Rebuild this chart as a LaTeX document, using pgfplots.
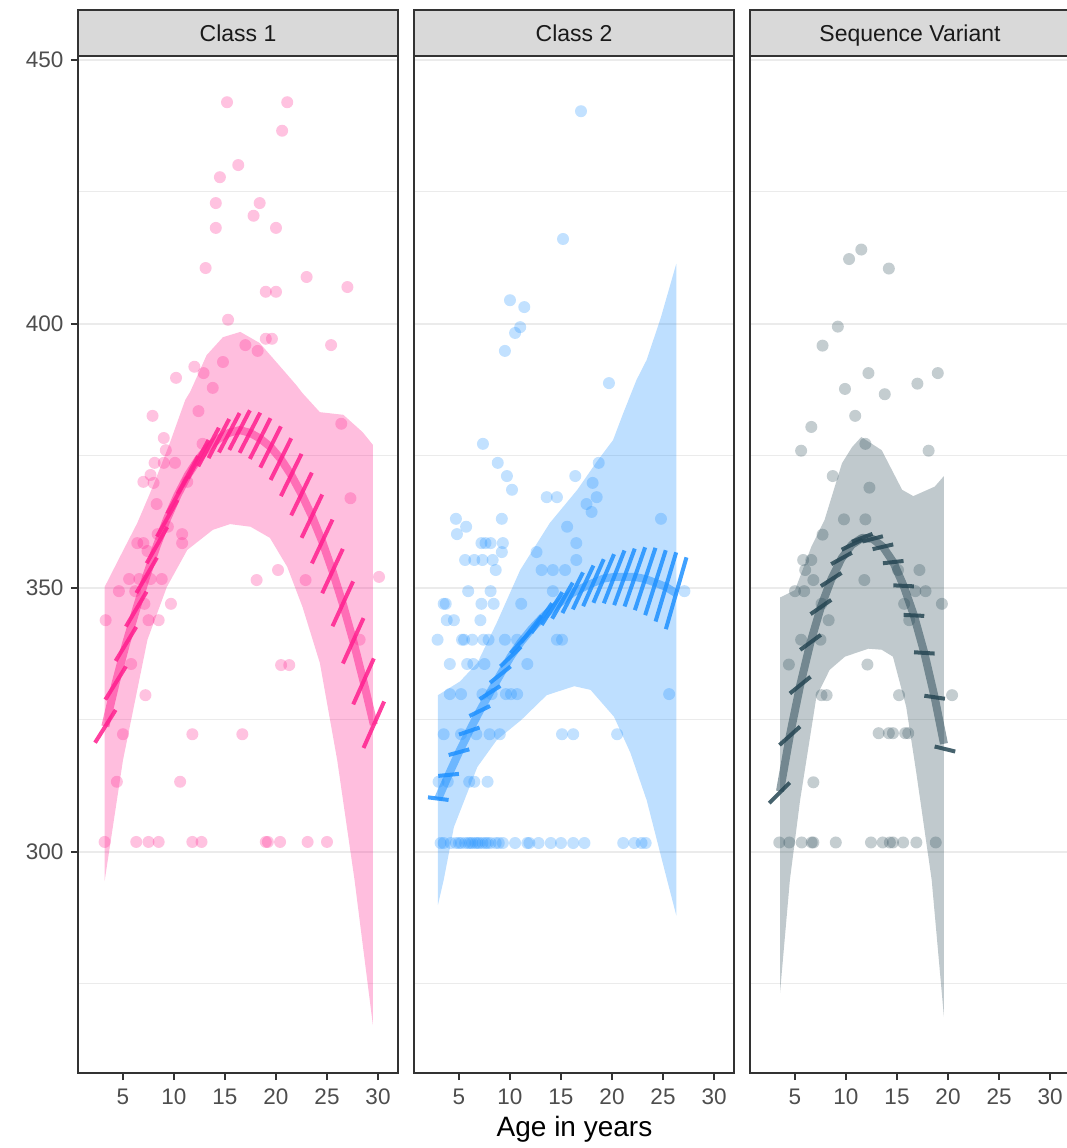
\documentclass[border=0pt]{standalone}
\usepackage{fontspec}
\setmainfont{Liberation Sans}
\usepackage{pgfplots}
\pgfplotsset{compat=1.18}
\definecolor{pinkC}{HTML}{FF1F8E}
\definecolor{blueC}{HTML}{1E90FF}
\definecolor{grayC}{HTML}{264653}
\definecolor{grid92}{HTML}{EBEBEB}
\definecolor{grey20}{HTML}{333333}
\definecolor{grey30}{HTML}{4D4D4D}
\definecolor{grey10}{HTML}{1A1A1A}
\definecolor{stripfill}{HTML}{D9D9D9}

\pgfplotsset{
  facet/.style={
    scale only axis, width=320pt, height=1017pt,
    xmin=0.59, xmax=31.96, ymin=258.14, ymax=450.76,
    xtick={5,10,...,30}, ytick={300,350,400,450}, minor ytick={275,325,375,425},
    ymajorgrids, yminorgrids,
    major grid style={grid92, line width=2pt},
    minor grid style={grid92, line width=1pt},
    axis line style={grey20, line width=1.5pt},
    tick align=outside, major tick length=7pt, minor tick length=0pt,
    every tick/.append style={grey20, line width=1.5pt},
    xtick pos=left, ytick pos=left,
    tick label style={font=\fontsize{22.5pt}{27pt}\selectfont, text=grey30},
    xticklabel style={yshift=-5pt},
    yticklabel style={xshift=-4pt},
    /pgf/number format/assume math mode=true,
    every axis title/.style={at={(0.5,1)}, anchor=south, fill=stripfill, draw=grey20, line width=1.5pt,
      minimum width=320pt, minimum height=46pt, inner sep=0pt, outer sep=0pt,
      text height=16.5pt, text depth=0pt,
      font=\fontsize{23pt}{27pt}\selectfont, text=grey10},
  },
  pts/.style={only marks, mark=*, color=#1, mark size=6pt, mark options={draw=#1, draw opacity=0, fill=#1, fill opacity=0.27}},
  rib/.style={draw=none, fill=#1, fill opacity=0.29},
  fit/.style={#1, draw opacity=0.5, line width=8pt, no markers, line join=round},
  seg/.style={#1, draw opacity=0.85, line width=4pt, no markers, quiver={u=\thisrow{u}, v=\thisrow{v}}},
}

\begin{document}
\begin{tikzpicture}
% ---------------- Class 1 ----------------
\begin{axis}[facet, at={(78pt,75pt)}, anchor=south west, title={Class 1}]
\addplot[rib=pinkC] coordinates {
(3.2,350.2)(4.7,355.9)(6.4,362.3)(7.9,369.1)(9.6,377.5)(11.1,385.6)(11.6,387.2)(13.2,394.1)(14.8,397.5)(16.5,398.5)(18.4,396.4)(20.7,391.3)(22.0,388.4)(22.6,386.9)(24.3,383.3)(26.6,382.8)(28.5,379.5)(29.5,377.1)
(29.5,267.2)(27.7,294.7)(26.0,317.4)(24.3,335.8)(22.6,346.4)(21.1,354.0)(19.4,359.5)(17.5,361.6)(15.5,362.1)(13.8,361.0)(11.3,357.2)(9.3,350.2)(7.4,340.2)(5.8,325.0)(5.0,317.4)(3.2,294.5)
};
\addplot[pts=pinkC] table {
x y
15.2 442.0
21.1 442.0
20.6 436.6
16.3 430.1
14.5 427.8
14.1 422.9
18.4 422.9
17.8 420.5
14.1 418.2
20.0 418.2
13.1 410.6
23.0 408.9
27.0 407.0
19.0 406.1
20.0 406.1
15.3 400.8
19.0 397.2
19.6 397.2
17.0 396.0
25.4 396.0
18.2 394.9
14.8 392.8
12.0 391.9
12.9 390.7
10.2 389.8
13.8 387.9
12.4 383.5
7.9 382.6
26.4 381.1
9.0 378.4
12.8 377.3
9.2 376.1
8.1 373.7
9.0 373.7
10.1 373.7
7.7 371.4
7.0 370.1
8.0 369.9
11.3 370.1
27.3 367.0
8.3 365.9
9.4 361.6
8.4 360.2
10.8 360.2
10.8 358.5
6.4 358.5
7.0 358.5
7.4 357.0
20.2 353.4
5.6 351.7
6.6 351.7
7.7 351.7
8.8 351.7
18.1 351.5
22.9 351.5
30.1 352.1
4.6 349.4
6.2 349.4
7.1 347.0
9.7 347.0
3.3 343.9
7.5 343.9
8.5 343.9
28.2 340.2
5.8 335.6
20.5 335.4
21.3 335.4
7.2 329.7
5.0 322.3
11.8 322.3
16.7 322.3
4.4 313.3
10.6 313.3
3.2 301.9
6.3 301.9
7.5 301.9
8.5 301.9
11.8 301.9
12.7 301.9
19.0 301.9
19.2 301.9
20.4 301.9
23.1 301.9
25.0 301.9
};
\addplot[fit=pinkC] coordinates {
(3.27,323.8)(4.28,332.0)(5.29,339.4)(6.30,346.0)(7.32,352.4)(8.33,358.1)(9.34,363.2)(10.35,367.6)(11.37,371.4)(12.38,374.4)(13.39,376.7)(14.40,378.3)(15.42,379.4)(16.43,379.9)(17.44,379.4)(18.45,378.3)(19.47,376.7)(20.48,374.4)(21.49,371.4)(22.50,367.8)(23.52,363.6)(24.53,358.8)(25.54,353.2)(26.55,347.0)(27.57,340.0)(28.58,332.3)(29.59,324.1)
};
\addplot[seg=pinkC] table {
x y u v
2.26 320.70 2.02 6.20
3.27 328.85 2.02 6.30
4.28 336.18 2.02 6.45
5.29 342.70 2.02 6.60
6.31 349.05 2.02 6.70
7.32 354.68 2.02 6.85
8.33 359.73 2.02 6.95
9.34 364.08 2.02 7.05
10.36 367.83 2.02 7.15
11.37 370.78 2.02 7.25
12.38 373.05 2.02 7.30
13.39 374.60 2.02 7.40
14.41 375.68 2.02 7.45
15.42 376.15 2.02 7.50
16.43 375.60 2.02 7.60
17.44 374.45 2.02 7.70
18.46 372.80 2.02 7.80
19.47 370.45 2.02 7.90
20.48 367.40 2.02 8.00
21.49 363.75 2.02 8.10
22.51 359.50 2.02 8.20
23.52 354.65 2.02 8.30
24.53 349.00 2.02 8.40
25.54 342.75 2.02 8.50
26.56 335.70 2.02 8.60
27.57 327.95 2.02 8.70
28.58 319.70 2.02 8.80
};
\end{axis}
% ---------------- Class 2 ----------------
\begin{axis}[facet, at={(414pt,75pt)}, anchor=south west, title={Class 2}, yticklabels={}, ytick style={draw=none}]
\addplot[rib=blueC] coordinates {
(2.94,329.7)(5.1,332.3)(6.8,335.8)(8.7,343.4)(11.0,353.4)(13.9,362.3)(16.6,368.6)(18.5,373.9)(20.1,378.0)(21.1,383.1)(22.4,389.4)(23.4,393.2)(24.8,401.3)(26.3,411.4)
(26.3,288.0)(25.4,294.7)(23.4,309.8)(21.8,318.8)(20.2,325.6)(17.9,330.7)(16.3,331.4)(13.6,329.7)(11.1,325.0)(8.7,321.2)(6.8,316.1)(4.5,304.7)(3.5,294.7)(2.94,290.0)
};
\addplot[pts=blueC] table {
x y
16.96 440.3
15.2 416.1
10.0 404.5
11.4 403.2
11.0 399.4
10.5 398.3
9.5 394.9
19.7 388.8
7.35 377.3
8.8 373.7
9.7 371.2
10.2 368.6
16.4 371.2
13.6 367.2
14.6 367.2
18.7 373.7
18.1 369.9
18.5 367.2
17.5 365.9
18.0 364.4
4.7 363.1
5.7 361.6
4.8 360.2
9.2 363.1
15.6 361.6
16.5 358.5
16.5 355.3
12.6 356.8
24.8 363.1
7.2 358.5
7.6 358.5
8.1 358.5
9.3 358.5
9.2 356.8
5.6 355.3
6.5 355.3
7.3 355.3
8.3 355.3
8.6 353.4
13.1 353.4
14.2 353.4
15.4 353.4
5.9 349.4
8.1 349.4
14.2 349.4
27.1 349.4
3.5 347.0
3.7 347.0
7.2 347.0
8.4 347.0
11.1 347.0
3.8 343.9
4.5 343.9
7.1 343.9
2.9 340.2
5.3 340.2
5.5 340.2
6.3 340.2
7.4 340.2
7.9 340.2
9.5 340.2
10.7 340.2
14.6 340.2
15.1 340.2
4.1 335.6
5.8 335.6
6.4 335.6
7.5 335.6
11.7 335.6
4.1 329.9
5.2 329.9
7.3 329.9
8.2 329.9
9.6 329.9
10.1 329.9
10.7 329.9
25.6 329.9
3.5 322.3
5.2 322.3
6.7 322.3
8.0 322.3
9.0 322.3
15.1 322.3
16.2 322.3
20.5 322.3
3.0 313.3
3.9 313.3
6.0 313.3
6.5 313.3
7.8 313.3
3.2 301.7
3.5 301.7
4.2 301.7
4.7 301.7
5.0 301.7
5.2 301.7
5.6 301.7
5.9 301.7
6.1 301.7
6.3 301.7
6.6 301.7
6.8 301.7
7.0 301.7
7.3 301.7
7.6 301.7
7.8 301.7
8.1 301.7
8.6 301.7
8.9 301.7
9.3 301.7
10.5 301.7
11.7 301.7
11.9 301.7
12.8 301.7
14.0 301.7
15.0 301.7
16.2 301.7
17.3 301.7
21.1 301.7
22.2 301.7
22.9 301.7
23.3 301.7
};
\addplot[fit=blueC] coordinates {
(2.94,310.0)(3.98,314.6)(5.0,318.9)(6.01,322.9)(7.03,326.7)(8.04,330.2)(9.05,333.6)(10.07,337.0)(11.08,339.8)(12.1,342.2)(13.11,344.3)(14.12,346.1)(15.14,347.6)(16.15,349.1)(17.17,350.1)(18.18,351.0)(19.19,351.8)(20.21,352.1)(21.22,352.1)(22.24,352.1)(23.25,351.7)(24.26,351.0)(25.28,350.2)(26.29,349.0)
};
\addplot[seg=blueC] table {
x y u v
1.96 310.35 2.02 -0.50
2.97 314.41 2.02 0.38
3.99 318.37 2.02 1.07
5.00 322.24 2.02 1.33
6.02 325.75 2.02 1.90
7.03 328.95 2.02 2.50
8.04 332.05 2.02 3.10
9.06 335.15 2.02 3.70
10.07 337.65 2.02 4.30
11.09 339.70 2.02 5.00
12.10 341.50 2.02 5.60
13.11 343.00 2.02 6.20
14.13 344.20 2.02 6.80
15.14 345.25 2.02 7.70
16.16 345.95 2.02 8.30
17.17 346.55 2.02 8.90
18.18 347.20 2.02 9.20
19.20 347.10 2.02 10.00
20.21 346.75 2.02 10.70
21.23 346.50 2.02 11.20
22.24 345.80 2.02 11.80
23.25 344.85 2.02 12.30
24.27 343.65 2.02 13.10
25.28 342.20 2.02 13.60
};
\end{axis}
% ---------------- Sequence Variant ----------------
\begin{axis}[facet, at={(750pt,75pt)}, anchor=south west, title={Sequence Variant}, yticklabels={}, ytick style={draw=none}]
\addplot[rib=grayC] coordinates {
(3.53,348.2)(5.0,349.6)(6.6,357.8)(7.9,362.9)(9.6,373.6)(10.6,376.7)(11.5,378.6)(13.5,376.1)(15.5,368.6)(16.6,367.4)(18.7,369.2)(19.6,371.2)
(19.6,268.8)(18.4,294.7)(16.9,314.9)(15.9,327.5)(14.6,337.0)(13.5,338.3)(12.2,338.5)(9.9,337.0)(8.4,334.5)(7.1,329.4)(5.5,309.8)(4.5,294.7)(3.53,273.3)
};
\addplot[pts=grayC] table {
x y
10.3 412.3
11.5 414.1
14.2 410.5
9.2 399.5
7.7 395.9
12.2 390.7
9.9 387.7
13.8 386.7
17.0 388.7
19.0 390.7
10.9 382.6
6.6 380.5
5.6 376.0
18.1 376.0
11.9 377.3
8.7 371.2
12.3 369.0
9.8 363.0
11.9 363.0
7.7 360.1
5.8 355.3
6.6 355.3
6.0 353.4
17.2 353.4
15.1 353.4
6.8 351.5
11.8 351.5
5.0 349.4
5.9 349.4
16.8 349.4
17.8 349.4
15.7 347.0
19.4 347.0
7.6 347.0
8.3 343.9
16.2 343.9
5.6 340.2
7.5 340.2
4.4 335.5
12.1 335.5
7.6 329.7
8.1 329.7
15.2 329.7
20.4 329.7
13.2 322.5
14.2 322.5
14.6 322.5
15.8 322.5
16.1 322.5
6.8 313.2
3.46 301.8
4.44 301.8
5.66 301.8
6.64 301.8
6.80 301.8
9.0 301.8
12.45 301.8
13.6 301.8
14.3 301.8
14.6 301.8
15.6 301.8
16.9 301.8
18.8 301.8
};
\addplot[fit=grayC] coordinates {
(3.53,311.5)(4.49,322.0)(5.51,331.6)(6.52,339.7)(7.54,346.4)(8.55,351.6)(9.56,355.6)(10.58,358.2)(11.59,359.5)(12.61,359.3)(13.62,357.8)(14.63,354.9)(15.65,350.4)(16.66,344.8)(17.68,337.7)(18.69,329.3)(19.6,320.5)
};
\addplot[seg=grayC] table {
x y u v
2.47 309.25 2.02 3.90
3.48 320.25 2.02 3.50
4.50 330.02 2.02 3.16
5.51 338.28 2.02 2.84
6.53 345.05 2.02 2.70
7.54 350.35 2.02 2.50
8.55 354.52 2.02 2.15
9.57 357.25 2.02 1.90
10.58 358.75 2.02 1.50
11.60 358.80 2.02 1.00
12.61 357.35 2.02 0.90
13.62 354.68 2.02 0.44
14.64 350.50 2.02 -0.19
15.65 344.90 2.02 -0.19
16.67 337.83 2.02 -0.25
17.68 329.59 2.02 -0.57
18.69 319.98 2.02 -0.95
};
\end{axis}
\node[font=\fontsize{28pt}{32pt}\selectfont, anchor=base] at (574.5pt,11pt) {Age in years};
\pgfresetboundingbox
\path[use as bounding box] (0pt,0pt) rectangle (1066pt,1148pt);
\end{tikzpicture}
\end{document}
